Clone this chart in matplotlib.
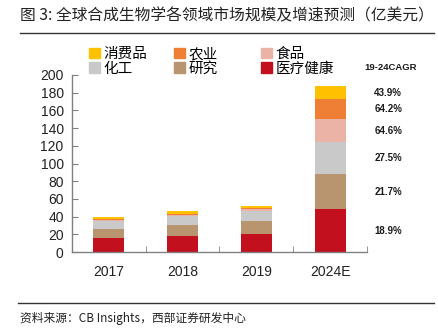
import numpy as np
import matplotlib.pyplot as plt
from matplotlib.patches import Patch
from matplotlib.lines import Line2D

# 数据 (亿美元)
years = ["2017", "2018", "2019", "2024E"]
medical = [16.0, 18.1, 20.0, 48.2]      # 医疗健康
research = [9.8, 12.0, 15.1, 39.5]      # 研究
chemical = [9.4, 10.5, 10.9, 36.9]      # 化工
food = [0.8, 1.0, 2.1, 25.2]            # 食品
agri = [1.0, 1.5, 1.9, 22.6]            # 农业
consumer = [2.8, 3.2, 2.5, 15.1]        # 消费品
cagr = ["18.9%", "21.7%", "27.5%", "64.6%", "64.2%", "43.9%"]

names = ["医疗健康", "研究", "化工", "食品", "农业", "消费品"]
colors = ["#C3101E", "#B8956F", "#C9C9C9", "#EBB2A6", "#EE7F35", "#FFC000"]
series = [medical, research, chemical, food, agri, consumer]

cjk = ["Noto Sans CJK SC", "DejaVu Sans"]
plt.rcParams["font.family"] = ["Liberation Sans", "Noto Sans CJK SC"]

fig = plt.figure(figsize=(4.39, 3.30), dpi=100)
ax = fig.add_axes([72/439, 1-252/330, 295/439, 177/330])

x = np.arange(len(years))
bottom = np.zeros(len(years))
for vals, c, n in zip(series, colors, names):
    ax.bar(x, vals, width=0.42, bottom=bottom, color=c, label=n)
    bottom += np.array(vals)

# CAGR 标注 (放在 2024E 各段中间)
cum = 0
for vals, t in zip(series, cagr):
    mid = cum + vals[-1] / 2
    cum += vals[-1]
    ax.text(3.6, mid, t, fontsize=7, fontweight="bold", color="#1a1a1a",
            ha="left", va="center", clip_on=False)
ax.text(3.47, 209, "19-24CAGR", fontsize=6.8, fontweight="bold", color="#1a1a1a",
        ha="left", va="center", clip_on=False)

ax.set_xlim(-0.5, 3.5)
ax.set_ylim(0, 200)
ax.set_yticks(np.arange(0, 201, 20))
ax.set_xticks(x)
ax.set_xticklabels(years)
ax.set_xticks([0.5, 1.5, 2.5, 3.5], minor=True)
ax.tick_params(axis="x", which="major", length=0, labelsize=10, pad=9, colors="#222222")
ax.tick_params(axis="x", which="minor", length=4, direction="in", color="#808080")
ax.tick_params(axis="y", length=4, direction="in", color="#808080", labelsize=10,
               labelcolor="#222222", pad=6)
for s in ["top", "right"]:
    ax.spines[s].set_visible(False)
for s in ["left", "bottom"]:
    ax.spines[s].set_color("#808080")
    ax.spines[s].set_linewidth(1)

# 图例: 三列, 每列两项
cols = [[5, 2], [4, 1], [3, 0]]
xs = [89, 174, 261]
for idx, x0 in zip(cols, xs):
    handles = [Patch(color=colors[i]) for i in idx]
    labels = [names[i] for i in idx]
    fig.legend(handles, labels, loc="upper left", bbox_to_anchor=(x0/439, 1-47/330),
               frameon=False, ncol=1, borderpad=0, borderaxespad=0,
               handlelength=0.75, handleheight=0.75, handletextpad=0.25,
               labelspacing=0.05, prop={"family": cjk, "size": 10.5})

# 标题和来源
fig.text(20/439, 1-16/330, "图 3: 全球合成生物学各领域市场规模及增速预测（亿美元）",
         fontsize=11.3, family=cjk, ha="left", va="center", color="#222222")
fig.add_artist(Line2D([20/439, 434/439], [1-33/330, 1-33/330], color="#333333", lw=1))
fig.add_artist(Line2D([18/439, 434/439], [1-303/330, 1-303/330], color="#333333", lw=1))
fig.text(20/439, 1-318/330, "资料来源：CB Insights，西部证券研发中心",
         fontsize=8.5, family=cjk, ha="left", va="center", color="#222222")

plt.savefig("out.png", dpi=100)
